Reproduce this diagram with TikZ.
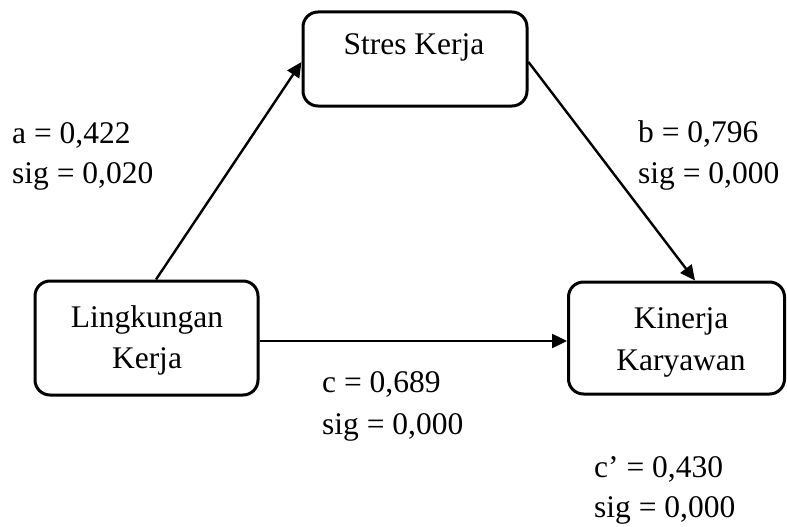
\documentclass[tikz,border=0pt]{standalone}
\usepackage{fontspec}
\setmainfont{Liberation Serif}
\usetikzlibrary{arrows.meta}
\begin{document}
\begin{tikzpicture}[x=1pt,y=-1pt,
  font=\fontsize{31.5pt}{41pt}\selectfont,
  box/.style={draw, line width=3pt, rounded corners=15pt, inner sep=0pt},
  txt/.style={inner sep=0pt, anchor=base},
  lbl/.style={inner sep=0pt, anchor=base west},
  arr/.style={line width=2.4pt, -{Triangle[length=15pt,width=14pt]}}]
\useasboundingbox (0,0) rectangle (787,527);
% boxes
\node[box, minimum width=224pt, minimum height=94pt] (stres) at (415,59) {};
\node[box, minimum width=223pt, minimum height=114pt] (ling) at (146.5,338) {};
\node[box, minimum width=216pt, minimum height=112pt] (kin) at (676.5,338) {};
% box texts
\node[txt] (stresT) at (414,55) {Stres Kerja};
\node[txt] (lingT1) at (147,327) {Lingkungan};
\node[txt] (lingT2) at (147,368) {Kerja};
\node[txt] (kinT1) at (681,328) {Kinerja};
\node[txt] (kinT2) at (681,370) {Karyawan};
% labels
\node[lbl] (a1) at (12,143) {a = 0,422};
\node[lbl] (a2) at (12,183) {sig = 0,020};
\node[lbl] (b1) at (638,142) {b = 0,796};
\node[lbl] (b2) at (638,183) {sig = 0,000};
\node[lbl] (c1) at (322,392) {c = 0,689};
\node[lbl] (c2) at (322,434) {sig = 0,000};
\node[lbl] (d1) at (594,477) {c’ = 0,430};
\node[lbl] (d2) at (594,517) {sig = 0,000};
% arrows
\draw[arr] ([xshift=9.5pt]ling.north) -- ([yshift=-3pt]stres.west);
\draw[arr] ([yshift=-3pt]stres.east) -- ([xshift=18.5pt]kin.north);
\draw[arr] ([yshift=-3pt]ling.east) -- ([yshift=-3pt]kin.west);
\end{tikzpicture}
\end{document}
